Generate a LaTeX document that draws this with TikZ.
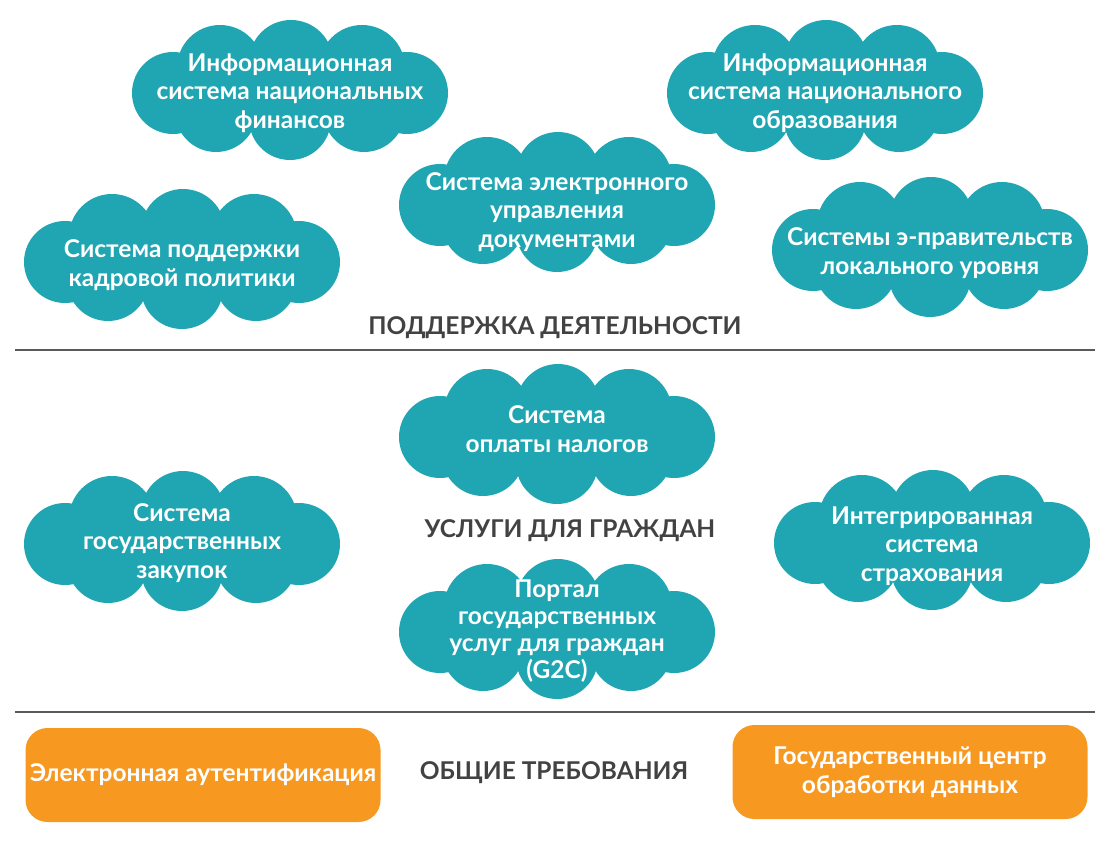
\documentclass[tikz,border=0pt]{standalone}
\usepackage{fontspec}
\setmainfont{Lato}
\usepackage{xcolor}
\usepackage{tikz}
\definecolor{cloudteal}{RGB}{32,166,178}
\definecolor{boxorange}{RGB}{247,152,33}
\definecolor{headgray}{RGB}{66,66,66}
\definecolor{linegray}{RGB}{90,90,90}

\begin{document}
\begin{tikzpicture}[x=1pt, y=-1pt,
    cloudblob/.pic={
        \fill[cloudteal] (-117,3) circle[radius=41pt] (117,3) circle[radius=41pt]
            (-70,-22) circle[radius=43pt] (1,-28) circle[radius=42pt] (72,-22) circle[radius=43pt]
            (-74,21) circle[radius=41pt] (0,29) circle[radius=41pt] (74,21) circle[radius=41pt];
        \fill[cloudteal] (-117,-25) rectangle (117,25);
    },
    cloudtext/.style={text=white, font=\bfseries\fontsize{24.5}{28.5}\selectfont, align=center, inner sep=0pt},
    reqbox/.style={fill=boxorange, rounded corners=22pt, minimum width=355pt, minimum height=94pt, text=white, font=\bfseries\fontsize{24.5}{29}\selectfont, align=center},
    headline/.style={text=headgray, font=\bfseries\fontsize{24.5}{28}\selectfont},
    sepline/.style={linegray, line width=2pt}]
    \useasboundingbox (0,0) rectangle (1109,841);
    % support
    \pic at (290,90) {cloudblob};
    \node[cloudtext] (finance) at (290,93) {Информационная\\система национальных\\финансов};
    \pic at (825,90) {cloudblob};
    \node[cloudtext] (education) at (825,93) {Информационная\\система национального\\образования};
    \pic at (557,202) {cloudblob};
    \node[cloudtext] (documents) at (557,212) {Система электронного\\управления\\документами};
    \pic at (182,259) {cloudblob};
    \node[cloudtext] (personnel) at (182,265) {Система поддержки\\кадровой политики};
    \pic at (930,247) {cloudblob};
    \node[cloudtext] (localgov) at (930,253) {Системы э-правительств\\локального уровня};
    \node[headline] (support) at (555,328) {ПОДДЕРЖКА ДЕЯТЕЛЬНОСТИ};
    \draw[sepline] (15,350) -- (1095,350);
    % services
    \pic at (557,434) {cloudblob};
    \node[cloudtext] (taxes) at (557,429) {Система\\оплаты налогов};
    \pic at (182,541) {cloudblob};
    \node[cloudtext] (procurement) at (182,543) {Система\\государственных\\закупок};
    \pic at (932,540) {cloudblob};
    \node[cloudtext] (insurance) at (932,546) {Интегрированная\\система\\страхования};
    \node[headline] (services) at (570,531) {УСЛУГИ ДЛЯ ГРАЖДАН};
    \pic at (557,629) {cloudblob};
    \node[cloudtext, font=\bfseries\fontsize{24.5}{26.8}\selectfont] (portal) at (557,631) {Портал\\государственных\\услуг для граждан\\(G2C)};
    \draw[sepline] (15,712) -- (1095,712);
    % requirements
    \node[reqbox] (auth) at (203,775) {Электронная аутентификация};
    \node[headline] (common) at (554,773) {ОБЩИЕ ТРЕБОВАНИЯ};
    \node[reqbox] (datacenter) at (910,772) {Государственный центр\\обработки данных};
\end{tikzpicture}
\end{document}
